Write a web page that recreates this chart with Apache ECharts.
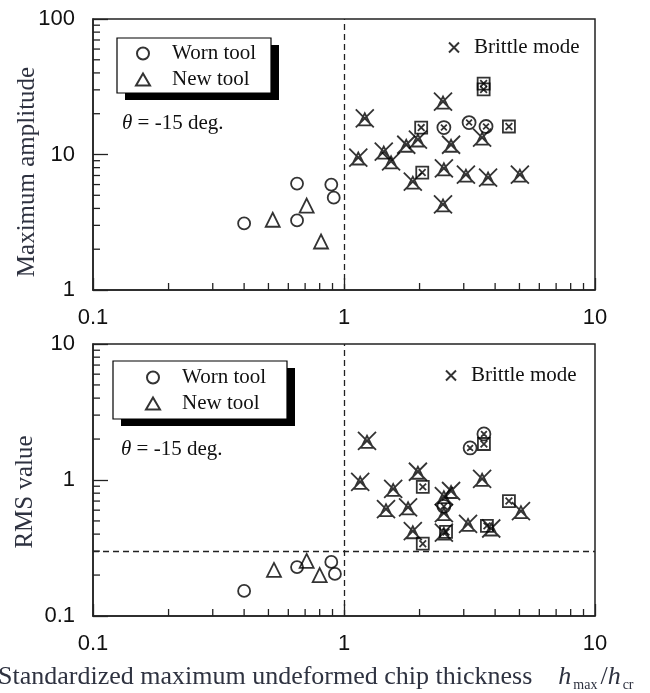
<!DOCTYPE html>
<html>
<head>
<meta charset="utf-8">
<script src="https://cdn.jsdelivr.net/npm/echarts@6/dist/echarts.min.js"></script>
<style>
  html, body { margin: 0; padding: 0; background: #fff; }
  #main { width: 650px; height: 693px; }
</style>
</head>
<body>
<div id="main"></div>
<script type="text/javascript">
// values, [h_max/h_cr, value]
// upper panel: maximum amplitude
var ampWorn = [[0.40, 3.1], [0.65, 6.1], [0.65, 3.26], [0.89, 6.0], [0.91, 4.8]];
var ampNew = [[0.52, 3.3], [0.71, 4.2], [0.81, 2.28]];
var ampBrittleTri = [[1.21, 18.5], [1.14, 9.5], [1.44, 10.5], [1.54, 8.9], [1.77, 11.8], [1.97, 12.9],
    [1.88, 6.3], [2.48, 24.6], [2.67, 11.8], [2.5, 7.9], [2.48, 4.28], [3.55, 13.3], [3.06, 7.1],
    [3.75, 6.76], [5.02, 7.1]];
var ampBrittleCirc = [[2.5, 15.8], [3.15, 17.2], [3.68, 16.1]];
var ampBrittleSq = [[2.03, 15.8], [2.05, 7.36], [4.54, 16.1], [3.6, 33.4], [3.6, 30.2]];

// lower panel: RMS value
var rmsWorn = [[0.40, 0.153], [0.65, 0.229], [0.89, 0.25], [0.92, 0.204]];
var rmsNew = [[0.526, 0.218], [0.71, 0.254], [0.80, 0.20]];
var rmsBrittleTri = [[1.235, 1.94], [1.16, 0.97], [1.57, 0.86], [1.47, 0.61], [1.8, 0.63], [1.97, 1.15],
    [1.88, 0.42], [2.5, 0.76], [2.67, 0.83], [2.5, 0.57], [3.55, 1.02], [5.07, 0.59], [3.12, 0.475],
    [3.86, 0.44], [2.5, 0.41]];
var rmsBrittleCirc = [[2.5, 0.64], [3.61, 2.18], [3.18, 1.72]];
var rmsBrittleSq = [[2.06, 0.89], [2.06, 0.34], [3.61, 1.84], [4.54, 0.70], [3.71, 0.46], [2.55, 0.415]];

// boundary lines
var hRatioLimit = 1;
var rmsLimit = 0.3;

// minor tick values for the log axes
var xMinor = [0.2, 0.3, 0.4, 0.5, 0.6, 0.7, 0.8, 0.9, 2, 3, 4, 5, 6, 7, 8, 9];
var ampMinor = [2, 3, 4, 5, 6, 7, 8, 9, 20, 30, 40, 50, 60, 70, 80, 90];
var rmsMinor = [0.2, 0.3, 0.4, 0.5, 0.6, 0.7, 0.8, 0.9, 2, 3, 4, 5, 6, 7, 8, 9];

var serif = 'Liberation Serif';
var sans = 'Liberation Sans';
var ink = '#222';
var titleInk = '#2e3240';

var triX = 'path://M4,17L10,5L16,17ZM1,1L19,19M19,1L1,19';
var circX = 'path://M19,10A9,9 0 1 1 1,10A9,9 0 1 1 19,10ZM6,6L14,14M14,6L6,14';
var sqX = 'path://M1,1L19,1L19,19L1,19ZM5,5L15,15M15,5L5,15';
var crossIcon = 'path://M0,0L10,10M10,0L0,10';

var markStyle = { color: 'rgba(0,0,0,0)', borderColor: '#000', borderWidth: 1.8 };

function scatter(name, idx, data, symbol, size) {
    return {
        name: name, type: 'scatter', xAxisIndex: idx, yAxisIndex: idx,
        data: data, symbol: symbol, symbolSize: size,
        itemStyle: markStyle, silent: true
    };
}

function minorTicks(idx, vals, dir, anchor) {
    return {
        type: 'custom', xAxisIndex: idx, yAxisIndex: idx, silent: true, clip: false, z: 3,
        data: vals.map(function (v) { return dir === 'x' ? [v, anchor] : [anchor, v]; }),
        renderItem: function (params, api) {
            var p = api.coord([api.value(0), api.value(1)]);
            var shape = dir === 'x'
                ? { x1: p[0], y1: p[1], x2: p[0], y2: p[1] - 7 }
                : { x1: p[0], y1: p[1], x2: p[0] + 7, y2: p[1] };
            return { type: 'line', shape: shape, style: { stroke: ink, lineWidth: 1.3 } };
        }
    };
}

function dashLines(lines) {
    return {
        silent: true, symbol: ['none', 'none'], animation: false,
        label: { show: false },
        lineStyle: { type: [6, 4], color: ink, width: 1.3 },
        data: lines
    };
}

function xAx(idx) {
    return {
        type: 'log', logBase: 10, gridIndex: idx, min: 0.1, max: 10,
        axisLine: { lineStyle: { color: ink, width: 1.5 } },
        axisTick: { inside: true, length: 12, lineStyle: { color: ink, width: 1.3 } },
        axisLabel: { fontFamily: sans, fontSize: 22, color: '#111', margin: 17 },
        splitLine: { show: false }
    };
}

function yAx(idx, min, max) {
    return {
        type: 'log', logBase: 10, gridIndex: idx, min: min, max: max,
        axisLine: { lineStyle: { color: ink, width: 1.5 } },
        axisTick: { inside: true, length: 15, lineStyle: { color: ink, width: 1.3 } },
        axisLabel: { fontFamily: sans, fontSize: 22, color: '#111', margin: 18 },
        splitLine: { show: false }
    };
}

function toolLegend(left, top) {
    return {
        data: ['Worn tool', 'New tool'], orient: 'vertical', left: left, top: top,
        itemWidth: 14, itemHeight: 12, itemGap: 5, padding: 0, selectedMode: false,
        textStyle: { fontFamily: serif, fontSize: 21, color: '#111', lineHeight: 20, padding: [0, 0, 0, 17] }
    };
}

function brittleLegend(left, top) {
    return {
        data: [{ name: 'Brittle mode', icon: crossIcon }], left: left, top: top,
        itemWidth: 10, itemHeight: 10, padding: 0, selectedMode: false,
        textStyle: { fontFamily: serif, fontSize: 21, color: '#111', lineHeight: 20, padding: [0, 0, 0, 10] }
    };
}

function boxWithShadow(x, y, w, h) {
    return [
        { type: 'rect', shape: { x: x + 8, y: y + 7, width: w, height: h }, style: { fill: '#000' }, z: 1 },
        { type: 'rect', shape: { x: x, y: y, width: w, height: h }, style: { fill: '#fff', stroke: '#000', lineWidth: 1.2 }, z: 1 }
    ];
}

function thetaText(x, y) {
    return {
        type: 'text', x: x, y: y, z: 5,
        style: {
            text: '{i|θ} = -15 deg.', fill: '#111', font: '21px ' + serif, verticalAlign: 'middle',
            rich: { i: { fontStyle: 'italic', fontFamily: serif, fontSize: 21 } }
        }
    };
}

var myChart = echarts.init(document.getElementById('main'));
var option = {
    animation: false,
    backgroundColor: '#fff',
    grid: [
        { left: 93, top: 19, width: 502, height: 271, show: true, borderColor: ink, borderWidth: 1.5 },
        { left: 93, top: 344, width: 502, height: 272, show: true, borderColor: ink, borderWidth: 1.5 }
    ],
    xAxis: [xAx(0), xAx(1)],
    yAxis: [yAx(0, 1, 100), yAx(1, 0.1, 10)],
    legend: [toolLegend(135, 43), toolLegend(145, 367), brittleLegend(448, 37), brittleLegend(445, 365)],
    graphic: [].concat(
        boxWithShadow(117, 38, 154, 55),
        boxWithShadow(113, 361, 174, 58),
        [
            thetaText(122, 123),
            thetaText(121, 449),
            {
                type: 'text', x: 27, y: 172, rotation: Math.PI / 2,
                style: { text: 'Maximum amplitude', font: '25px ' + serif, fill: titleInk, align: 'center', verticalAlign: 'middle' }
            },
            {
                type: 'text', x: 25, y: 492, rotation: Math.PI / 2,
                style: { text: 'RMS value', font: '25px ' + serif, fill: titleInk, align: 'center', verticalAlign: 'middle' }
            },
            {
                type: 'text', x: -2, y: 677,
                style: {
                    text: 'Standardized maximum undeformed chip thickness    {h|h}{s|max}{n|/}{h|h}{s|cr}',
                    font: '26px ' + serif, fill: titleInk, verticalAlign: 'middle',
                    rich: {
                        h: { fontStyle: 'italic', fontFamily: serif, fontSize: 26, fill: titleInk },
                        n: { fontFamily: serif, fontSize: 26, fill: titleInk },
                        s: { fontFamily: serif, fontSize: 14, fill: titleInk, padding: [16, 3, 0, 2] }
                    }
                }
            }
        ]
    ),
    series: [
        (function () {
            var s = scatter('Worn tool', 0, ampWorn, 'circle', 12);
            s.markLine = dashLines([{ xAxis: hRatioLimit }]);
            return s;
        })(),
        scatter('New tool', 0, ampNew, 'triangle', 14),
        scatter('Brittle mode', 0, ampBrittleTri, triX, 18),
        scatter('Brittle mode', 0, ampBrittleCirc, circX, 13),
        scatter('Brittle mode', 0, ampBrittleSq, sqX, 12),
        (function () {
            var s = scatter('Worn tool', 1, rmsWorn, 'circle', 12);
            s.markLine = dashLines([{ xAxis: hRatioLimit }, { yAxis: rmsLimit }]);
            return s;
        })(),
        scatter('New tool', 1, rmsNew, 'triangle', 14),
        scatter('Brittle mode', 1, rmsBrittleTri, triX, 18),
        scatter('Brittle mode', 1, rmsBrittleCirc, circX, 13),
        scatter('Brittle mode', 1, rmsBrittleSq, sqX, 12),
        minorTicks(0, xMinor, 'x', 1),
        minorTicks(0, ampMinor, 'y', 0.1),
        minorTicks(1, xMinor, 'x', 0.1),
        minorTicks(1, rmsMinor, 'y', 0.1)
    ]
};
myChart.setOption(option);
</script>
</body>
</html>
